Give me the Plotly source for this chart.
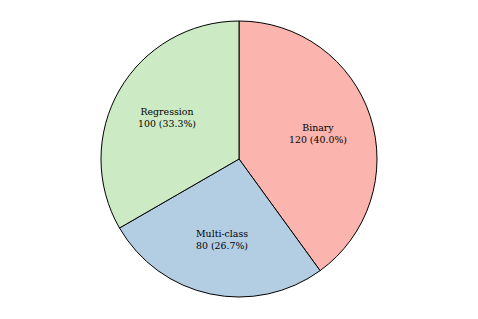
import math
import plotly.graph_objects as go

labels = ["Binary", "Multi-class", "Regression"]
values = [120, 80, 100]
colors = ["#fbb4ae", "#b3cde3", "#ccebc5"]

W, H = 462, 303
ml, mr, mt, mb = 0, 0, 13, 14

fig = go.Figure(go.Pie(
    labels=labels, values=values, sort=False, direction="clockwise", rotation=0,
    marker=dict(colors=colors, line=dict(color="black", width=1)),
    textinfo="none", hoverinfo="label+value+percent", showlegend=False,
    domain=dict(x=[0, 1], y=[0, 1]),
))

total = sum(values)
pw, ph = W - ml - mr, H - mt - mb
r = min(pw, ph) / 2
start = 90.0
annotations = []
for lab, v in zip(labels, values):
    span = 360.0 * v / total
    mid = math.radians(start - span / 2)
    start -= span
    dx = 0.6 * r * math.cos(mid)
    dy = 0.6 * r * math.sin(mid)
    annotations.append(dict(
        x=0.5 + dx / pw, y=0.5 + dy / ph, xref="paper", yref="paper",
        text=f"{lab}<br>{v} ({100 * v / total:.1f}%)", showarrow=False,
        font=dict(family="DejaVu Serif", size=9.4, color="black"),
        xanchor="center", yanchor="middle",
    ))

fig.update_layout(
    width=W, height=H, margin=dict(l=ml, r=mr, t=mt, b=mb),
    paper_bgcolor="white", plot_bgcolor="white",
    annotations=annotations,
)
fig.write_html("out.html")
